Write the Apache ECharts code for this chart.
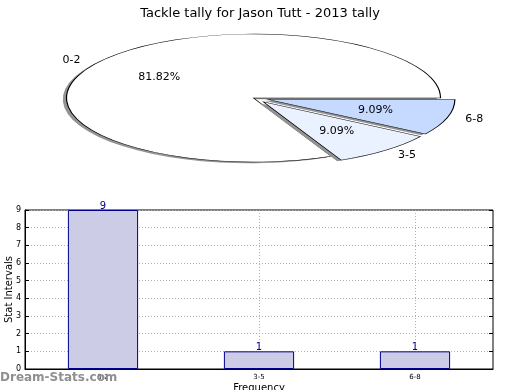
<!DOCTYPE html>
<html>
<head>
<meta charset="utf-8">
<script src="https://cdn.jsdelivr.net/npm/echarts@6/dist/echarts.min.js"></script>
<style>html,body{margin:0;padding:0;background:#fff;}#c{width:520px;height:390px;}</style>
</head>
<body>
<div id="c"></div>
<script>
// ---- data ----
const titleText = 'Tackle tally for Jason Tutt - 2013 tally';
const categories = ['0-2', '3-5', '6-8'];
const tallies = [9, 1, 1];
const piePercents = ['81.82%', '9.09%', '9.09%'];
const pieExplode = [0, 0.08, 0.08];
const pieColors = ['#ffffff', '#eaf1ff', '#c6d9ff'];
const yTicks = [0, 1, 2, 3, 4, 5, 6, 7, 8, 9];

const chart = echarts.init(document.getElementById('c'), null, {renderer: 'canvas'});
const FONT = 'DejaVu Sans';

const PIE = {cx: 253.5, cy: 98, rx: 187, ry: 64};

function renderPie(params, api) {
  const i = params.dataIndex;
  const total = tallies.reduce((a, b) => a + b, 0);
  let before = 0;
  for (let j = 0; j < i; j++) before += tallies[j];
  const v = api.value(0);
  const a1 = before / total * Math.PI * 2;
  const a2 = (before + v) / total * Math.PI * 2;
  const mid = (a1 + a2) / 2;
  const R = PIE.rx, k = PIE.ry / PIE.rx;
  const ex = pieExplode[i] * R * Math.cos(mid);
  const ey = -pieExplode[i] * R * Math.sin(mid);
  const sd = 0.02 * R;
  const shadow = {
    type: 'sector',
    shape: {cx: ex - sd, cy: ey + sd, r: R, r0: 0, startAngle: -a2, endAngle: -a1, clockwise: true},
    style: {fill: '#949494', stroke: null}
  };
  const wedge = {
    type: 'sector',
    shape: {cx: ex, cy: ey, r: R, r0: 0, startAngle: -a2, endAngle: -a1, clockwise: true},
    style: {fill: pieColors[i], stroke: '#000', lineWidth: 1.2, strokeNoScale: true}
  };
  const c = Math.cos(mid), s = Math.sin(mid);
  const lx = PIE.cx + ex + 1.1 * R * c;
  const ly = PIE.cy + (ey - 1.1 * R * s) * k;
  const px = PIE.cx + ex + 0.6 * R * c;
  const py = PIE.cy + (ey - 0.6 * R * s) * k;
  return {
    type: 'group',
    children: [
      {type: 'group', x: PIE.cx, y: PIE.cy, scaleY: k, children: [shadow, wedge]},
      {type: 'text', x: lx, y: ly, style: {text: categories[i], fill: '#000', font: '11px "' + FONT + '"', align: c > 0 ? 'left' : 'right', verticalAlign: 'middle'}},
      {type: 'text', x: px, y: py, style: {text: piePercents[i], fill: '#000', font: '11px "' + FONT + '"', align: 'center', verticalAlign: 'middle'}}
    ]
  };
}

const dotted = {show: true, lineStyle: {color: '#b0b0b0', type: [1, 2], width: 1}};

const option = {
  backgroundColor: '#fff',
  animation: false,
  textStyle: {fontFamily: FONT},
  title: {
    text: titleText, left: 'center', top: 2,
    textStyle: {fontFamily: FONT, fontSize: 13, fontWeight: 'normal', color: '#000'}
  },
  grid: {left: 25, right: 27, top: 210, bottom: 21, containLabel: false, outerBoundsMode: 'none',
    show: true, borderColor: '#000', borderWidth: 1, backgroundColor: 'transparent'},
  xAxis: [{
    type: 'category', data: categories, gridIndex: 0,
    axisLine: {show: true, lineStyle: {color: '#000'}},
    axisTick: {show: true, inside: true, alignWithLabel: true, length: 3, lineStyle: {color: '#000'}},
    axisLabel: {fontSize: 7, color: '#000', margin: 5, fontFamily: FONT},
    splitLine: Object.assign({alignWithLabel: true}, dotted),
    name: 'Frequency', nameLocation: 'middle', nameGap: 14, nameMoveOverlap: false,
    nameTextStyle: {fontSize: 10, color: '#000', fontFamily: FONT}
  }],
  yAxis: [{
    type: 'value', min: yTicks[0], max: yTicks[yTicks.length - 1], interval: 1,
    axisLine: {show: true, lineStyle: {color: '#000'}},
    axisTick: {show: true, inside: true, length: 4, lineStyle: {color: '#000'}},
    axisLabel: {fontSize: 8, color: '#000', margin: 4, fontFamily: FONT},
    splitLine: dotted,
    name: 'Stat Intervals', nameLocation: 'middle', nameGap: 11, nameMoveOverlap: false,
    nameTextStyle: {fontSize: 10, color: '#000', fontFamily: FONT}
  }, {
    type: 'value', min: yTicks[0], max: yTicks[yTicks.length - 1], interval: 1, position: 'right',
    axisLine: {show: false},
    axisTick: {show: true, inside: true, length: 4, lineStyle: {color: '#000'}},
    axisLabel: {show: false}, splitLine: {show: false}
  }],
  graphic: [{
    type: 'text', left: 0, top: 372, z: 100,
    style: {text: 'Dream-Stats.com', fill: '#8f8f8f', font: 'bold 12px "' + FONT + '"'}
  }],
  series: [{
    type: 'bar', data: tallies, xAxisIndex: 0, yAxisIndex: 0,
    barWidth: '45%',
    itemStyle: {color: '#ccccE6', borderColor: '#00008b', borderWidth: 1},
    label: {show: true, position: 'top', distance: -1, color: '#00008b', fontSize: 10, fontFamily: FONT},
    z: 1
  }, {
    type: 'custom', coordinateSystem: 'none', data: tallies,
    renderItem: renderPie, silent: true
  }]
};
chart.setOption(option);
</script>
</body>
</html>
